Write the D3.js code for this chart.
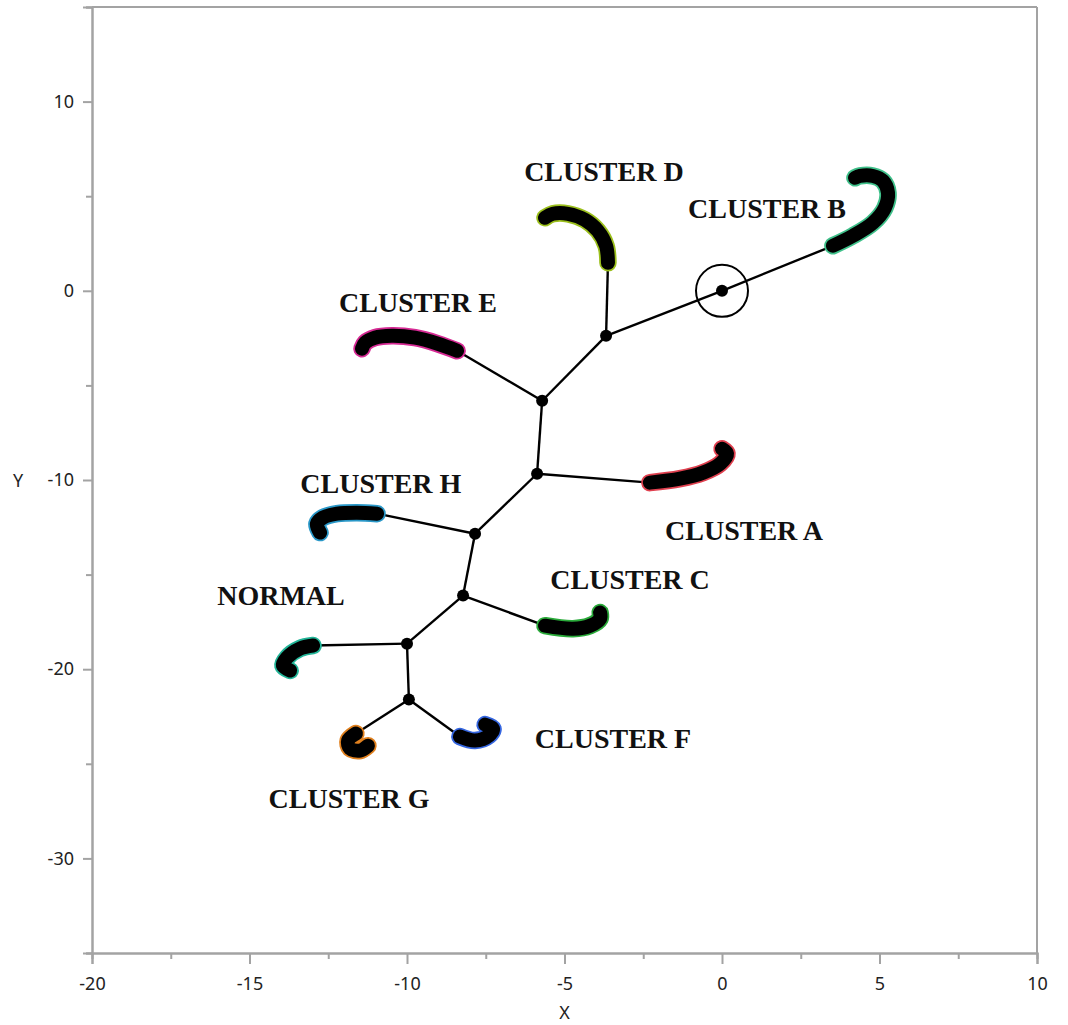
<!DOCTYPE html>
<html>
<head>
<meta charset="utf-8">
<script src="https://cdn.jsdelivr.net/npm/d3@7/dist/d3.min.js"></script>
<style>
  html, body { margin: 0; padding: 0; background: #fff; }
  svg { display: block; }
</style>
</head>
<body>
<svg id="chart" width="1068" height="1025"></svg>
<script>
// ---- Data -------------------------------------------------------------
// Branch points of the tree (X, Y)
const nodeNames = ["O", "N1", "N2", "N3", "N4", "N5", "N6", "N7"];
const nodeX = [0, -3.68, -5.71, -5.87, -7.84, -8.22, -10.0, -9.94];
const nodeY = [0, -2.38, -5.81, -9.67, -12.84, -16.11, -18.65, -21.6];

// Tree edges between branch points
const treeEdges = [["O", "N1"], ["N1", "N2"], ["N2", "N3"], ["N3", "N4"],
                   ["N4", "N5"], ["N5", "N6"], ["N6", "N7"]];

// Clusters: label, parent branch point, outline colour, trajectory
const clusterNames = ["CLUSTER B", "CLUSTER D", "CLUSTER E", "CLUSTER A",
                      "CLUSTER H", "CLUSTER C", "NORMAL", "CLUSTER F", "CLUSTER G"];
const clusterParent = ["O", "N1", "N2", "N3", "N4", "N5", "N6", "N7", "N7"];
const clusterColor = ["#3fc08a", "#9bbf1c", "#d62a94", "#e0404f", "#2a98c8",
                      "#2aaa3a", "#22b598", "#3566e0", "#e0801e"];
const clusterTracks = [
  [[3.52, 2.38], [4.16, 2.91], [4.79, 3.59], [5.17, 4.38], [5.27, 5.18], [5.11, 5.81], [4.79, 6.07], [4.38, 6.07], [4.22, 5.97]],
  [[-3.62, 1.48], [-3.68, 2.38], [-3.94, 3.17], [-4.35, 3.75], [-4.89, 4.07], [-5.37, 4.07], [-5.62, 3.86]],
  [[-8.41, -3.17], [-9.02, -2.80], [-9.75, -2.48], [-10.48, -2.38], [-11.02, -2.48], [-11.33, -2.75], [-11.43, -3.06]],
  [[-2.29, -10.14], [-1.33, -9.93], [-0.60, -9.61], [-0.06, -9.14], [0.16, -8.61], [0.0, -8.35]],
  [[-10.95, -11.78], [-11.59, -11.73], [-12.22, -11.78], [-12.67, -11.99], [-12.86, -12.31], [-12.76, -12.78]],
  [[-5.62, -17.70], [-4.73, -17.86], [-4.19, -17.70], [-3.87, -17.33], [-3.87, -17.01]],
  [[-12.98, -18.75], [-13.40, -18.91], [-13.81, -19.39], [-13.94, -19.81], [-13.71, -20.07]],
  [[-8.32, -23.56], [-7.84, -23.77], [-7.40, -23.51], [-7.27, -23.14], [-7.52, -22.93]],
  [[-11.62, -23.40], [-11.87, -23.77], [-11.81, -24.19], [-11.49, -24.30], [-11.24, -24.04]]
];
// Label anchor points (X, Y) for each cluster name
const labelX = [1.43, -3.75, -9.65, 0.70, -10.83, -2.92, -14.0, -3.46, -11.84];
const labelY = [3.86, 5.81, -1.11, -13.15, -10.67, -15.74, -16.59, -24.19, -27.36];

// Axis ticks
const xMajorTicks = [-20, -15, -10, -5, 0, 5, 10];
const xMinorTicks = [-17.5, -12.5, -7.5, -2.5, 2.5, 7.5];
const yMajorTicks = [-30, -20, -10, 0, 10];
const yMinorTicks = [-35, -25, -15, -5, 5, 15];

// ---- Layout -----------------------------------------------------------
const svg = d3.select("#chart");
const margin = { left: 92, right: 31, top: 7, bottom: 72 };
const W = 1068, H = 1025;

const x = d3.scaleLinear().domain([-20, 10]).range([margin.left, W - margin.right]);
const y = d3.scaleLinear().domain([-35, 15]).range([H - margin.bottom, margin.top]);

const axisColor = "#a3a3a3";
const textColor = "#222";
const tickFormat = d => String(d);   // plain hyphen-minus, e.g. "-20"

// Frame (top and right)
svg.append("line")
  .attr("x1", x(-20)).attr("x2", x(10)).attr("y1", y(15)).attr("y2", y(15))
  .attr("stroke", axisColor).attr("stroke-width", 2);
svg.append("line")
  .attr("x1", x(10)).attr("x2", x(10)).attr("y1", y(15)).attr("y2", y(-35))
  .attr("stroke", axisColor).attr("stroke-width", 2);

function styleAxis(g) {
  g.select(".domain").attr("stroke", axisColor).attr("stroke-width", 2);
  g.selectAll(".tick line").attr("stroke", axisColor).attr("stroke-width", 2);
  g.selectAll(".tick text")
    .attr("fill", textColor)
    .style("font-family", "'Noto Sans', 'Open Sans', sans-serif")
    .style("font-size", "18px");
}

// X axis
const gxMinor = svg.append("g").attr("transform", `translate(0,${y(-35)})`)
  .call(d3.axisBottom(x).tickValues(xMinorTicks).tickSize(6).tickFormat(""));
styleAxis(gxMinor);
const gx = svg.append("g").attr("transform", `translate(0,${y(-35)})`)
  .call(d3.axisBottom(x).tickValues(xMajorTicks).tickSize(11).tickFormat(tickFormat));
styleAxis(gx);
gx.selectAll(".tick text").attr("y", 37).attr("dy", 0);

// Y axis
const gyMinor = svg.append("g").attr("transform", `translate(${x(-20)},0)`)
  .call(d3.axisLeft(y).tickValues(yMinorTicks).tickSize(6).tickFormat(""));
styleAxis(gyMinor);
const gy = svg.append("g").attr("transform", `translate(${x(-20)},0)`)
  .call(d3.axisLeft(y).tickValues(yMajorTicks).tickSize(9).tickPadding(9).tickFormat(tickFormat));
styleAxis(gy);

// Axis titles
svg.append("text")
  .attr("x", (x(-20) + x(10)) / 2).attr("y", 1019)
  .attr("text-anchor", "middle").attr("fill", textColor)
  .style("font-family", "'Noto Sans', 'Open Sans', sans-serif").style("font-size", "18px")
  .text("X");
svg.append("text")
  .attr("x", 18).attr("y", (y(15) + y(-35)) / 2 + 7)
  .attr("text-anchor", "middle").attr("fill", textColor)
  .style("font-family", "'Noto Sans', 'Open Sans', sans-serif").style("font-size", "18px")
  .text("Y");

// ---- Tree -------------------------------------------------------------
const nodeIndex = new Map(nodeNames.map((n, i) => [n, i]));
const nodePos = n => [x(nodeX[nodeIndex.get(n)]), y(nodeY[nodeIndex.get(n)])];

const plot = svg.append("g");

// Root marker circle
plot.append("circle")
  .attr("cx", x(nodeX[0])).attr("cy", y(nodeY[0])).attr("r", 26)
  .attr("fill", "none").attr("stroke", "#000").attr("stroke-width", 2);

// Edges: between branch points and from branch points to clusters
const edgeSegments = treeEdges.map(([a, b]) => [nodePos(a), nodePos(b)])
  .concat(clusterParent.map((p, i) => [nodePos(p), [x(clusterTracks[i][0][0]), y(clusterTracks[i][0][1])]]));

plot.selectAll("line.edge").data(edgeSegments).join("line")
  .attr("class", "edge")
  .attr("x1", d => d[0][0]).attr("y1", d => d[0][1])
  .attr("x2", d => d[1][0]).attr("y2", d => d[1][1])
  .attr("stroke", "#000").attr("stroke-width", 2.4);

// Cluster trajectories: coloured outline under a thick black stroke
const track = d3.line().x(d => x(d[0])).y(d => y(d[1])).curve(d3.curveCatmullRom.alpha(0.5));

plot.selectAll("path.halo").data(clusterTracks).join("path")
  .attr("class", "halo")
  .attr("d", track)
  .attr("fill", "none")
  .attr("stroke", (d, i) => clusterColor[i])
  .attr("stroke-width", 17.5)
  .attr("stroke-linecap", "round").attr("stroke-linejoin", "round");

plot.selectAll("path.core").data(clusterTracks).join("path")
  .attr("class", "core")
  .attr("d", track)
  .attr("fill", "none")
  .attr("stroke", "#000")
  .attr("stroke-width", 14)
  .attr("stroke-linecap", "round").attr("stroke-linejoin", "round");

// Branch-point dots
plot.selectAll("circle.node").data(nodeNames).join("circle")
  .attr("class", "node")
  .attr("cx", n => nodePos(n)[0]).attr("cy", n => nodePos(n)[1])
  .attr("r", 6).attr("fill", "#000");

// Cluster labels
plot.selectAll("text.label").data(clusterNames).join("text")
  .attr("class", "label")
  .attr("x", (d, i) => x(labelX[i])).attr("y", (d, i) => y(labelY[i]))
  .attr("text-anchor", "middle")
  .attr("fill", "#111")
  .style("font-family", "'Liberation Serif', 'Times New Roman', serif")
  .style("font-weight", "bold")
  .style("font-size", "28px")
  .text(d => d);
</script>
</body>
</html>
